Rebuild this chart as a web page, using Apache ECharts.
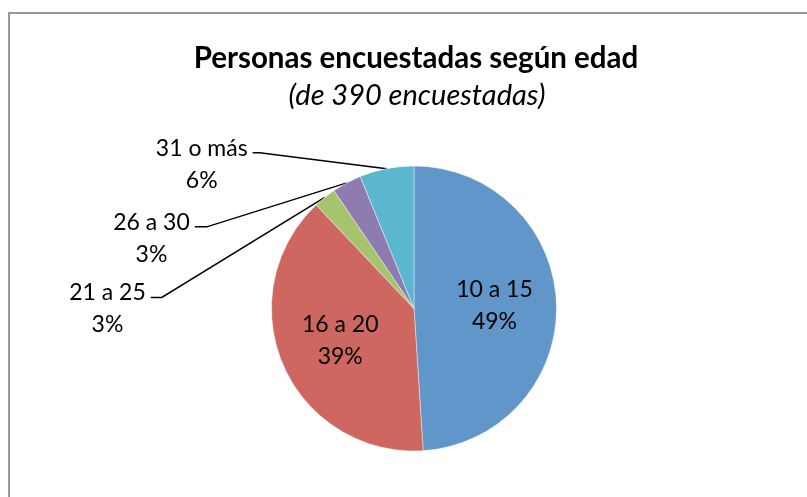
<!DOCTYPE html>
<html>
<head>
    <title>Personas encuestadas según edad</title>
    <meta charset="utf-8"/>
    <script src="https://cdn.jsdelivr.net/npm/echarts@6/dist/echarts.min.js"></script>
    <style>
        html, body { margin: 0; padding: 0; background: #fff; }
    </style>
</head>
<body>
    <div id="myChart" style="width: 807px; height: 497px;"></div>
</body>
<script type="text/javascript">
    // datos del gráfico
    var categories = ['10 a 15', '16 a 20', '21 a 25', '26 a 30', '31 o más'];
    var values = [191, 152, 10, 13, 24];   // total 390
    var colors = ['#6096CA', '#CD675F', '#A6C36E', '#8E7BB0', '#5BB7D0'];

    // estilo: desplazamientos de las líneas guía (codo y extremo) desde el borde del sector
    var leaderOffsets = [null, null,
        [[-163, 100], [-174, 100]],
        [[-140, 44], [-152, 44]],
        [[-127, -16], [-134, -16]]];

    var cx = 414, cy = 308.5, r = 142.5;
    var font = 'Lato, "Open Sans", sans-serif';

    var total = values.reduce(function (a, b) { return a + b; }, 0);
    var midAngles = [];
    var acc = 0;
    values.forEach(function (v) {
        midAngles.push((acc + v / 2) / total * Math.PI * 2);
        acc += v;
    });

    var myChart = echarts.init(document.getElementById('myChart'));

    var option = {
        backgroundColor: '#fff',
        animation: false,
        graphic: [{
            type: 'rect',
            shape: { x: 9, y: 13, width: 1000, height: 1000 },
            style: { fill: 'none', stroke: '#999', lineWidth: 2 },
            silent: true
        }],
        title: [{
            text: 'Personas encuestadas según edad',
            left: 411,
            top: 38,
            textAlign: 'center',
            textStyle: { fontFamily: font, fontWeight: 'bold', fontSize: 29.5, color: '#000' }
        }, {
            text: '(de 390 encuestadas)',
            left: 412,
            top: 76,
            textAlign: 'center',
            textStyle: { fontFamily: font, fontStyle: 'italic', fontWeight: 'normal', fontSize: 29, color: '#000' }
        }],
        series: [{
            type: 'pie',
            center: [cx, cy],
            radius: r,
            startAngle: 90,
            clockwise: true,
            avoidLabelOverlap: false,
            itemStyle: { borderColor: 'rgba(255,255,255,0.7)', borderWidth: 0.6 },
            label: {
                formatter: function (p) {
                    return p.name + '\n' + Math.round(p.percent) + '%';
                },
                fontFamily: font,
                fontSize: 23,
                lineHeight: 32,
                color: '#000',
                align: 'center'
            },
            labelLine: { lineStyle: { color: '#000', width: 1.5 } },
            labelLayout: function (params) {
                var i = params.dataIndex;
                var a = midAngles[i];
                var ex = cx + r * Math.sin(a), ey = cy - r * Math.cos(a);
                if (!leaderOffsets[i]) {
                    var d = r * 0.565;
                    return {
                        x: cx + d * Math.sin(a),
                        y: cy - d * Math.cos(a),
                        align: 'center',
                        verticalAlign: 'middle'
                    };
                }
                var knee = [ex + leaderOffsets[i][0][0], ey + leaderOffsets[i][0][1]];
                var end = [ex + leaderOffsets[i][1][0], ey + leaderOffsets[i][1][1]];
                return {
                    x: end[0] - 5 - params.labelRect.width / 2,
                    y: end[1] - 20.5,
                    align: 'center',
                    verticalAlign: 'top',
                    labelLinePoints: [[ex, ey], knee, end]
                };
            },
            data: categories.map(function (name, i) {
                var inside = i < 2;
                return {
                    name: name,
                    value: values[i],
                    itemStyle: { color: colors[i] },
                    label: { position: inside ? 'inside' : 'outside' },
                    labelLine: { show: !inside }
                };
            })
        }]
    };
    myChart.setOption(option);
</script>
</html>
